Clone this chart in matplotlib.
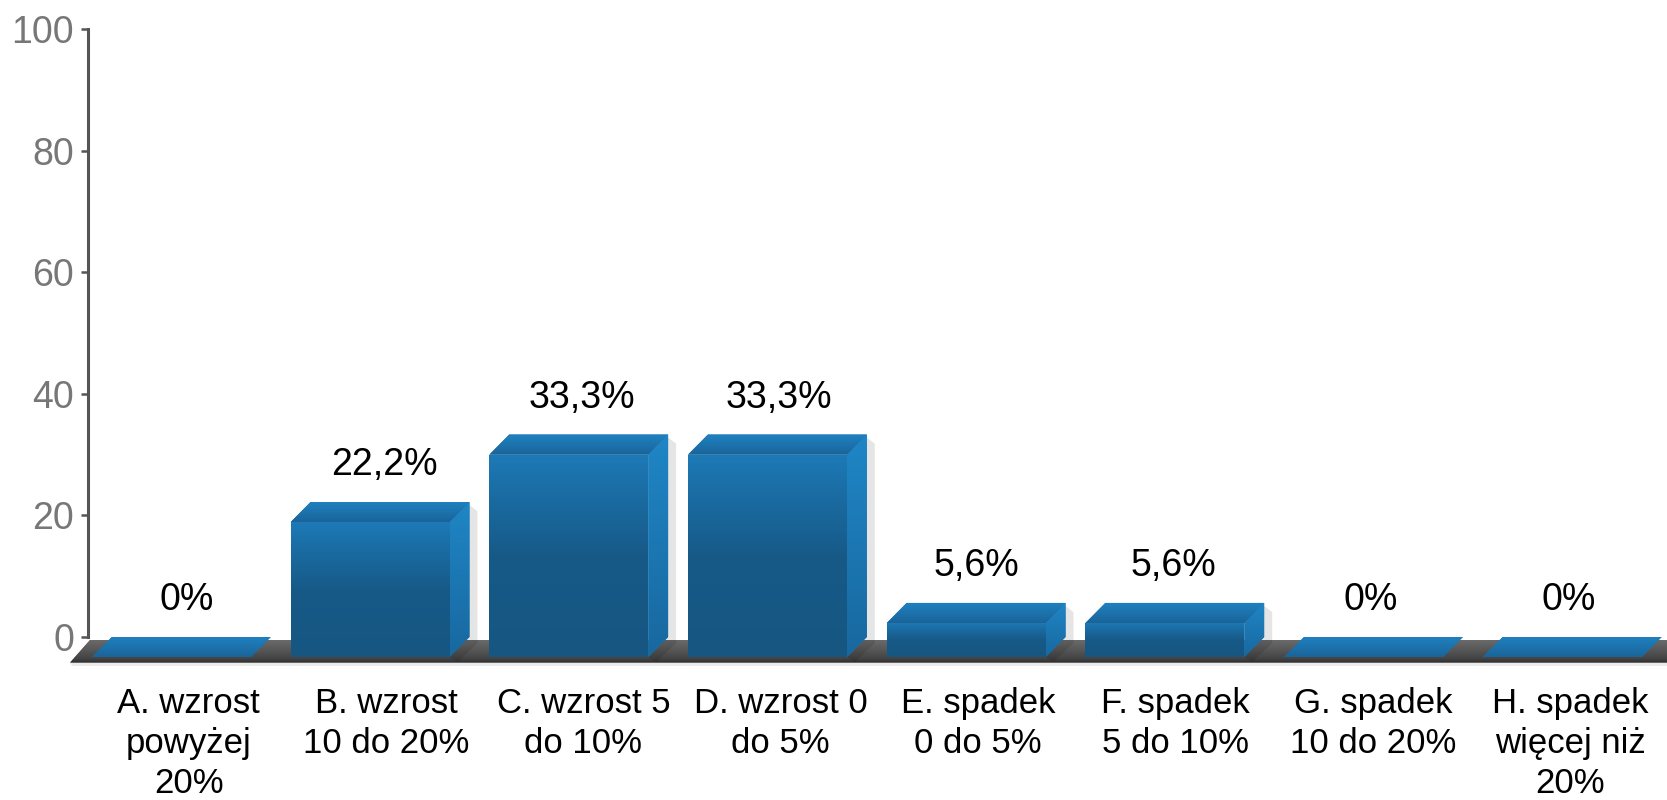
import numpy as np
import matplotlib
matplotlib.use("Agg")
import matplotlib.pyplot as plt
from matplotlib.patches import Polygon
from matplotlib.colors import LinearSegmentedColormap

plt.rcParams['font.family'] = ['Liberation Sans', 'DejaVu Sans']

# Data
categories = ["A. wzrost\npowyżej\n20%", "B. wzrost\n10 do 20%", "C. wzrost 5\ndo 10%",
              "D. wzrost 0\ndo 5%", "E. spadek\n0 do 5%", "F. spadek\n5 do 10%",
              "G. spadek\n10 do 20%", "H. spadek\nwięcej niż\n20%"]
values = [0, 22.2, 33.3, 33.3, 5.6, 5.6, 0, 0]
value_labels = ["0%", "22,2%", "33,3%", "33,3%", "5,6%", "5,6%", "0%", "0%"]
y_ticks = [0, 20, 40, 60, 80, 100]

# 3D look
bar_w = 0.8
dx, dy = 0.10, 3.3          # depth offset (data units)
x_min, x_max = -0.42, 7.527

front_cmap = LinearSegmentedColormap.from_list(
    "front", [(0, "#165681"), (0.5, "#175a88"), (0.8, "#1a6ca3"), (1.0, "#1d7ab6")])
top_cmap = LinearSegmentedColormap.from_list("top", ["#1a6499", "#1f82c1"])
side_cmap = LinearSegmentedColormap.from_list("side", ["#18689f", "#1f86c6"])
floor_cmap = LinearSegmentedColormap.from_list(
    "floor", [(0, "#2e2e2e"), (0.2, "#444444"), (0.6, "#585858"), (1.0, "#6a6a6a")])

fig = plt.figure(figsize=(16.67, 8), dpi=100)
ax = fig.add_axes([88 / 1667, 1 - 637 / 800, 1 - 88 / 1667, (637 - 29) / 800])


def grad_fill(pts, cmap, zorder):
    pts = np.asarray(pts)
    poly = Polygon(pts, closed=True, transform=ax.transData, facecolor=cmap(0.5),
                   edgecolor="none", clip_on=False, zorder=zorder)
    ax.add_patch(poly)
    grad = np.linspace(0, 1, 256).reshape(-1, 1)
    im = ax.imshow(grad, cmap=cmap, origin="lower", aspect="auto", interpolation="bilinear",
                   extent=(pts[:, 0].min(), pts[:, 0].max(), pts[:, 1].min(), pts[:, 1].max()),
                   zorder=zorder + 0.1)
    im.set_clip_box(fig.bbox)
    im.set_clip_path(poly)


# floor with a faint shadow under it
fl_back, fl_front = -0.5, -4.2
ax.add_patch(Polygon([(x_min - 0.09, fl_front), (x_max + 0.3, fl_front),
                      (x_max + 0.3, fl_front - 0.6), (x_min - 0.08, fl_front - 0.6)],
                     closed=True, facecolor="#000000", alpha=0.08, edgecolor="none",
                     clip_on=False, zorder=0.5))
grad_fill([(x_min + 0.01, fl_back), (x_max + 0.3, fl_back),
           (x_max + 0.3 - dx, fl_front), (x_min - 0.09, fl_front)], floor_cmap, 1)

for i, v in enumerate(values):
    x0, x1 = i - bar_w / 2, i + bar_w / 2
    if v > 0:
        # soft shadow
        ax.add_patch(Polygon([(x1 + dx, v - 0.5), (x1 + dx + 0.04, v - 1.5),
                              (x1 + dx + 0.04, -1.0), (x1 + 0.04, -dy - 0.8), (x1, -dy)],
                             closed=True, facecolor="#000000", alpha=0.10,
                             edgecolor="none", clip_on=False, zorder=2))
        grad_fill([(x0, -dy), (x1, -dy), (x1, v - dy), (x0, v - dy)], front_cmap, 3)
        grad_fill([(x1, -dy), (x1 + dx, 0), (x1 + dx, v), (x1, v - dy)], side_cmap, 3)
    grad_fill([(x0, v - dy), (x0 + dx, v), (x1 + dx, v), (x1, v - dy)], top_cmap, 3)

band = (x_max - x_min) / len(categories)
for i, (v, lab) in enumerate(zip(values, value_labels)):
    xc = x_min + (i + 0.5) * band
    ax.text(xc, v + 4.4, lab, ha="center", va="baseline", fontsize=27, color="black")
    ax.text(xc + 0.01, -8.2, categories[i], ha="center", va="top", fontsize=25,
            color="black", linespacing=1.28, clip_on=False)

ax.set_xlim(x_min, x_max)
ax.set_ylim(0, 100)
ax.set_yticks(y_ticks)
ax.set_xticks([])
for side in ["top", "right", "bottom"]:
    ax.spines[side].set_visible(False)
ax.spines["left"].set_color("#555555")
ax.spines["left"].set_linewidth(2.2)
ax.tick_params(axis="y", length=5, width=1.8, color="#555555", pad=5,
               labelsize=27, labelcolor="#777777")
ax.patch.set_visible(False)

fig.savefig("out.png", dpi=100)
